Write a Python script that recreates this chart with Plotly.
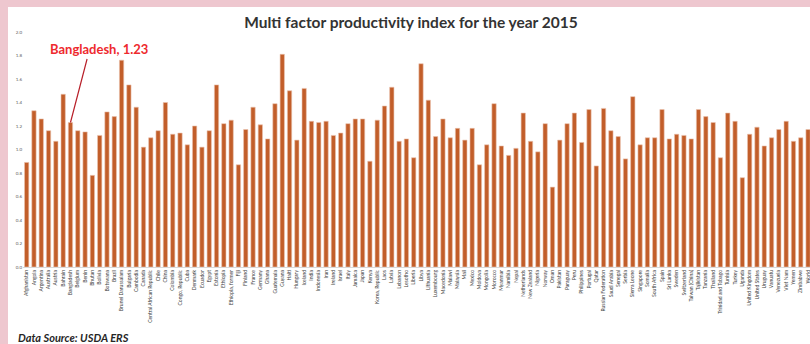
import plotly.graph_objects as go

countries = [
    "Afghanistan", "Angola", "Argentina", "Australia", "Austria", "Bahrain", "Bangladesh",
    "Belgium", "Benin", "Bhutan", "Bolivia", "Botswana", "Brazil", "Brunei Darussalam",
    "Bulgaria", "Cambodia", "Canada", "Central African Republic", "Chile", "China",
    "Colombia", "Congo, Republic", "Cuba", "Denmark", "Ecuador", "Egypt", "Estonia",
    "Ethiopia", "Ethiopia, former", "Fiji", "Finland", "France", "Germany", "Ghana",
    "Guatemala", "Guyana", "Haiti", "Hungary", "Iceland", "India", "Indonesia", "Iran",
    "Ireland", "Israel", "Italy", "Jamaica", "Japan", "Kenya", "Korea, Republic", "Laos",
    "Latvia", "Lebanon", "Lesotho", "Liberia", "Libya", "Lithuania", "Luxembourg",
    "Macedonia", "Malawi", "Malaysia", "Mali", "Mexico", "Moldova", "Mongolia", "Morocco",
    "Myanmar", "Namibia", "Nepal", "Netherlands", "New Zealand", "Nigeria", "Norway",
    "Oman", "Pakistan", "Paraguay", "Peru", "Philippines", "Portugal", "Qatar",
    "Russian Federation", "Saudi Arabia", "Senegal", "Serbia", "Sierra Leone", "Singapore",
    "Somalia", "South Africa", "Spain", "Sri Lanka", "Sweden", "Switzerland",
    "Taiwan (China)", "Tajikistan", "Tanzania", "Thailand", "Trinidad and Tobago",
    "Tunisia", "Turkey", "Uganda", "United Kingdom", "United States", "Uruguay", "Vanuatu",
    "Venezuela", "Viet Nam", "Yemen", "Zimbabwe", "World",
]

mfp_2015 = [
    0.89, 1.33, 1.26, 1.16, 1.07, 1.47, 1.23,
    1.16, 1.15, 0.78, 1.12, 1.32, 1.28, 1.76,
    1.55, 1.36, 1.02, 1.10, 1.16, 1.40,
    1.13, 1.14, 1.04, 1.20, 1.02, 1.16, 1.55,
    1.22, 1.25, 0.87, 1.17, 1.36, 1.21, 1.09,
    1.39, 1.81, 1.50, 1.08, 1.52, 1.24, 1.23, 1.24,
    1.12, 1.14, 1.22, 1.26, 1.26, 0.90, 1.25, 1.37,
    1.53, 1.07, 1.09, 0.93, 1.73, 1.42, 1.11,
    1.26, 1.10, 1.18, 1.08, 1.18, 0.87, 1.04, 1.39,
    1.03, 0.95, 1.01, 1.31, 1.07, 0.98, 1.22,
    0.68, 1.08, 1.22, 1.31, 1.06, 1.34, 0.86,
    1.35, 1.16, 1.11, 0.92, 1.45, 1.04,
    1.10, 1.10, 1.34, 1.09, 1.13, 1.12,
    1.09, 1.34, 1.28, 1.23, 0.93,
    1.31, 1.24, 0.76, 1.13, 1.19, 1.03, 1.10,
    1.17, 1.24, 1.07, 1.10, 1.17,
]

y_ticks = [0.0, 0.2, 0.4, 0.6, 0.8, 1.0, 1.2, 1.4, 1.6, 1.8, 2.0]

title_text = "Multi factor productivity index for the year 2015"
highlight_country = "Bangladesh"
highlight_value = 1.23
source_text = "Data Source: USDA ERS"

W, H = 810, 344
# white panel (margins of the figure = pink frame)
ML, MT = 8, 7
panel_w = W - ML
panel_h = H - MT
# bar plot area in pixels
PL, PR, PT, PB = 23, 810, 32, 267
BAND = 7.303

def fx(p):
    return (p - ML) / panel_w

def fy(p):
    return (H - p) / panel_h

BAR = "#C25E2A"
PINK = "#EEC7CF"

fig = go.Figure()
# empty trace to create the white panel subplot
fig.add_trace(go.Scatter(x=[], y=[], xaxis="x", yaxis="y", hoverinfo="skip"))
fig.add_trace(go.Bar(
    x=countries, y=mfp_2015, xaxis="x2", yaxis="y2",
    marker=dict(color=BAR, line=dict(color="#EBC2AE", width=0.6)),
    cliponaxis=True,
))

# leader line
fig.add_annotation(x=highlight_country, y=highlight_value, xref="x2", yref="y2",
                   text="", showarrow=True, arrowhead=0, arrowwidth=1.2,
                   arrowcolor="#B8202A", ax=17, ay=-65, standoff=0)
# label
fig.add_annotation(x=highlight_country, y=highlight_value, xref="x2", yref="y2",
                   text=f"<b>{highlight_country}, {highlight_value:.2f}</b>",
                   showarrow=False, xshift=29, yshift=73,
                   font=dict(family="Lato", size=13, color="#EE2A2E"))

fig.add_annotation(xref="paper", yref="paper", x=fx(16), y=fy(337),
                   xanchor="left", yanchor="middle", showarrow=False,
                   text=f"<b><i>{source_text}</i></b>",
                   font=dict(family="Lato", size=11, color="#262626"))

fig.update_layout(
    width=W, height=H,
    margin=dict(l=ML, r=0, t=MT, b=0, pad=0),
    paper_bgcolor=PINK,
    plot_bgcolor="white",
    showlegend=False,
    bargap=0.41,
    title=dict(text=f"<b>{title_text}</b>", x=fx(411), xref="paper", xanchor="center",
               y=1 - 23 / H, yref="container", yanchor="middle",
               font=dict(family="Lato", size=15.5, color="#333333")),
    xaxis=dict(domain=[0, 1], visible=False, showgrid=False, zeroline=False,
               fixedrange=True, range=[0, 1]),
    yaxis=dict(domain=[0, 1], visible=False, showgrid=False, zeroline=False,
               fixedrange=True, range=[0, 1]),
    xaxis2=dict(
        domain=[fx(PL), 1.0], anchor="y2",
        type="category", range=[-0.5, -0.5 + (PR - PL) / BAND],
        tickangle=-90, tickfont=dict(family="Lato", size=5, color="#404040"),
        showgrid=False, showline=True, linecolor="#D9D9D9", linewidth=1,
        ticks="", automargin=False, fixedrange=True,
    ),
    yaxis2=dict(
        domain=[fy(PB), fy(PT)], anchor="x2",
        range=[0, 2.0], tickvals=y_ticks, tickformat=".1f",
        tickfont=dict(family="Lato", size=4.5, color="#595959"),
        showgrid=False, zeroline=False, showline=False, ticks="",
        automargin=False, fixedrange=True,
    ),
)

fig.write_html("out.html", config={"displayModeBar": False})
